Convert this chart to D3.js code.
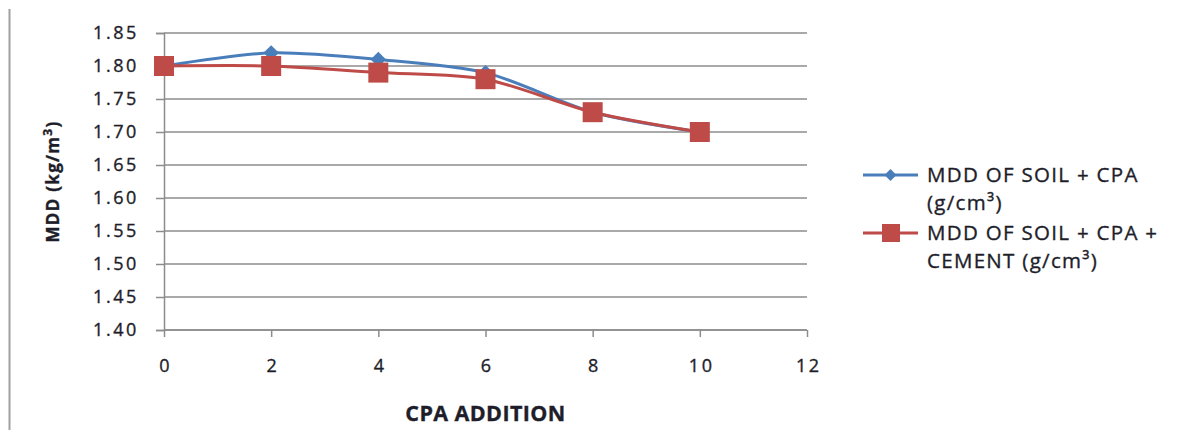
<!DOCTYPE html>
<html>
<head>
<meta charset="utf-8">
<script src="https://cdn.jsdelivr.net/npm/d3@7"></script>
<style>
  body { margin: 0; background: #fff; }
  text { font-family: "Open Sans", sans-serif; fill: #1e1e2a; stroke: #1e1e2a; stroke-width: 0.35px; }
</style>
</head>
<body>
<div id="viz"></div>
<script>
const width = 1188;
const height = 430;
const margin = { top: 33, right: 381, bottom: 100, left: 164 };

const xValues = [0, 2, 4, 6, 8, 10];
const soilCpa = [1.80, 1.82, 1.81, 1.79, 1.73, 1.70];
const soilCpaCement = [1.80, 1.80, 1.79, 1.78, 1.73, 1.70];
const xTicks = [0, 2, 4, 6, 8, 10, 12];
const yTicks = [1.40, 1.45, 1.50, 1.55, 1.60, 1.65, 1.70, 1.75, 1.80, 1.85];
const legendLines = [
    ["MDD OF SOIL + CPA", "(g/cm\u00b3)"],
    ["MDD OF SOIL + CPA +", "CEMENT (g/cm\u00b3)"]
];

const blue = '#4a7ebb';
const red = '#be4b48';
const gridColor = '#8c8c8c';

const svg = d3.select('#viz')
    .append('svg')
        .attr('width', width)
        .attr('height', height);

// outer frame line on the left
svg.append('line')
    .attr('x1', 9.5).attr('x2', 9.5)
    .attr('y1', 9).attr('y2', height)
    .attr('stroke', '#a0a0a0')
    .attr('stroke-width', 2);

let xScale = d3.scaleLinear()
    .domain([0, 12])
    .range([margin.left, width - margin.right]);

let yScale = d3.scaleLinear()
    .domain([1.40, 1.85])
    .range([height - margin.bottom, margin.top]);

// gridlines
svg.append('g')
    .selectAll('line')
    .data(yTicks)
    .join('line')
        .attr('x1', margin.left)
        .attr('x2', xScale(12))
        .attr('y1', d => yScale(d))
        .attr('y2', d => yScale(d))
        .attr('stroke', gridColor)
        .attr('stroke-width', 1.5);

const yAxis = svg.append('g')
    .attr('transform', `translate(${margin.left},0)`)
    .call(d3.axisLeft(yScale).tickValues(yTicks).tickFormat(d3.format('.2f')).tickSize(8).tickPadding(17));

const xAxis = svg.append('g')
    .attr('transform', `translate(0,${yScale(1.40)})`)
    .call(d3.axisBottom(xScale).tickValues(xTicks).tickSize(7).tickPadding(22));

[yAxis, xAxis].forEach(ax => {
    ax.select('.domain').attr('stroke', gridColor).attr('stroke-width', 1.5);
    ax.selectAll('.tick line').attr('stroke', gridColor).attr('stroke-width', 1.5);
    ax.selectAll('.tick text')
        .style('font-family', '"Open Sans", sans-serif')
        .style('font-size', '18px')
        .style('letter-spacing', '2.6px')
        .attr('fill', '#1e1e2a');
});
xAxis.selectAll('.tick text').attr('dx', '1.3px');
xAxis.select('.domain').attr('d', `M${xScale(0)},0H${xScale(12)}`);

// axis titles
svg.append('text')
    .attr('x', (xScale(0) + xScale(12)) / 2)
    .attr('y', 421)
    .attr('text-anchor', 'middle')
    .style('font-weight', 'bold')
    .style('font-size', '21.5px')
    .style('letter-spacing', '0.4px')
    .text('CPA ADDITION');

const yTitle = svg.append('text')
    .attr('transform', `translate(59,${(yScale(1.40) + yScale(1.85)) / 2}) rotate(-90)`)
    .attr('text-anchor', 'middle')
    .style('font-weight', 'bold')
    .style('font-size', '17px')
    .style('letter-spacing', '1.3px');
yTitle.append('tspan').text('MDD (kg/m');
yTitle.append('tspan').attr('dy', -7).style('font-size', '12px').text('3');
yTitle.append('tspan').attr('dy', 7).text(')');

// lines
const line = d3.line()
    .x((d, i) => xScale(xValues[i]))
    .y(d => yScale(d))
    .curve(d3.curveCardinal.tension(0.2));

svg.append('path')
    .datum(soilCpa)
    .attr('d', line)
    .attr('fill', 'none')
    .attr('stroke', blue)
    .attr('stroke-width', 3);

svg.append('path')
    .datum(soilCpaCement)
    .attr('d', line)
    .attr('fill', 'none')
    .attr('stroke', red)
    .attr('stroke-width', 3);

const diamond = d3.symbol().type(d3.symbolDiamond2).size(150);

svg.append('g')
    .selectAll('path')
    .data(soilCpa)
    .join('path')
        .attr('transform', (d, i) => `translate(${xScale(xValues[i])},${yScale(d)})`)
        .attr('d', diamond)
        .attr('fill', blue);

svg.append('g')
    .selectAll('rect')
    .data(soilCpaCement)
    .join('rect')
        .attr('x', (d, i) => xScale(xValues[i]) - 10)
        .attr('y', d => yScale(d) - 10)
        .attr('width', 20)
        .attr('height', 20)
        .attr('fill', red);

// legend
const legendX = 863;
const legendY = [175, 233];
const legendColors = [blue, red];

legendLines.forEach((lines, i) => {
    const g = svg.append('g').attr('transform', `translate(${legendX},${legendY[i]})`);
    g.append('line')
        .attr('x1', 0).attr('x2', 55)
        .attr('stroke', legendColors[i])
        .attr('stroke-width', 3);
    if (i === 0) {
        g.append('path')
            .attr('transform', 'translate(27.5,0)')
            .attr('d', d3.symbol().type(d3.symbolDiamond2).size(90))
            .attr('fill', blue);
    } else {
        g.append('rect')
            .attr('x', 19).attr('y', -9)
            .attr('width', 18).attr('height', 18)
            .attr('fill', red);
    }
    lines.forEach((t, j) => {
        g.append('text')
            .attr('x', 64)
            .attr('y', j * 28)
            .attr('dy', '0.35em')
            .style('font-size', '20.5px')
            .style('letter-spacing', '1.3px')
            .text(t);
    });
});
</script>
</body>
</html>
